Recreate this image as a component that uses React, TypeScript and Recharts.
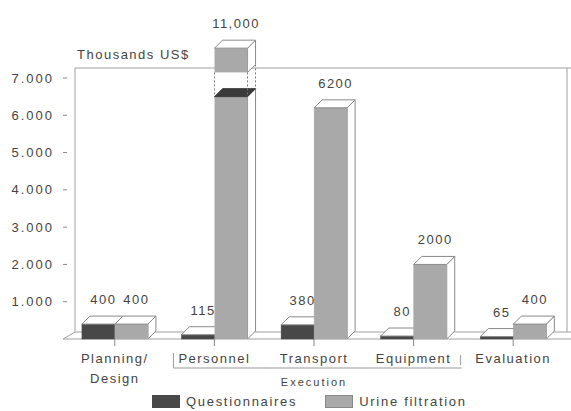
import React from 'react';
import { BarChart, Bar, XAxis, YAxis, ReferenceArea, LabelList } from 'recharts';

const categories = ['Planning/Design', 'Personnel', 'Transport', 'Equipment', 'Evaluation'];
const groups = ['', 'Execution', 'Execution', 'Execution', ''];
const questionnaires = [400, 115, 380, 80, 65];
const urineFiltration = [400, 11000, 6200, 2000, 400];
const yTicks = [1000, 2000, 3000, 4000, 5000, 6000, 7000];
const seriesNames = ['Questionnaires', 'Urine filtration'];
const seriesColors = ['#484848', '#a9a9a9'];

const data = categories.map((name, i) => ({
  name,
  group: groups[i],
  q: questionnaires[i],
  u: urineFiltration[i],
}));

const Y_MAX = 7000;
// where the off-scale bar gets cut (in value units)
const BREAK_LOW = 6500;
const BREAK_HIGH = 7150;
const BROKEN_TOP = 7800;
const DEPTH = 8;
const INK = '#444';
const EDGE = '#8a8a8a';
const FONT = '"Liberation Sans", Arial, sans-serif';

const fmtTick = (n: number) => String(n).replace(/\B(?=(\d{3})+(?!\d))/g, '.');
const fmtValue = (n: number) => (n >= 10000 ? n.toLocaleString('en-US') : String(n));

const topFace = (x: number, y: number, w: number, d: number) =>
  `${x},${y} ${x + d},${y - d} ${x + w + d},${y - d} ${x + w},${y}`;
const sideFace = (x: number, y: number, w: number, h: number, d: number) =>
  `${x + w},${y} ${x + w + d},${y - d} ${x + w + d},${y + h - d} ${x + w},${y + h}`;

const Box3D = (props: any) => {
  const { x, y, width: w, height: h, fill, v } = props;
  const base = y + h;
  const d = DEPTH;
  if (v > Y_MAX) {
    const k = h / v;
    const lowTop = base - BREAK_LOW * k;
    const highBottom = base - BREAK_HIGH * k;
    const top = base - BROKEN_TOP * k;
    return (
      <g>
        <polygon points={sideFace(x, lowTop, w, base - lowTop, d)} fill="#fff" stroke={EDGE} />
        <rect x={x} y={lowTop} width={w} height={base - lowTop} fill={fill} />
        <polygon points={topFace(x, lowTop, w, d)} fill="#3a3a3a" stroke="#3a3a3a" />
        <line x1={x} y1={highBottom} x2={x} y2={lowTop} stroke="#777" strokeDasharray="2 2" />
        <line x1={x + w} y1={highBottom} x2={x + w} y2={lowTop} stroke="#777" strokeDasharray="2 2" />
        <line x1={x + w + d} y1={highBottom - d} x2={x + w + d} y2={lowTop - d} stroke="#777" strokeDasharray="2 2" />
        <polygon points={sideFace(x, top, w, highBottom - top, d)} fill="#fff" stroke={EDGE} />
        <rect x={x} y={top} width={w} height={highBottom - top} fill={fill} />
        <polygon points={topFace(x, top, w, d)} fill="#fff" stroke={EDGE} />
      </g>
    );
  }
  return (
    <g>
      <polygon points={sideFace(x, y, w, h, d)} fill="#fff" stroke={EDGE} />
      <rect x={x} y={y} width={w} height={h} fill={fill} stroke={fill} strokeWidth={0.5} />
      <polygon points={topFace(x, y, w, d)} fill="#fff" stroke={EDGE} />
    </g>
  );
};

const makeLabel = (vals: number[]) => (props: any) => {
  const vb = props.viewBox || props;
  const { x, y, width, height } = vb;
  const v = vals[props.index];
  const base = y + height;
  const top = v > Y_MAX ? base - BROKEN_TOP * (height / v) : y;
  return (
    <text
      x={x + width / 2 + 5}
      y={top - 20}
      textAnchor="middle"
      fill={INK}
      fontSize={13}
      letterSpacing={1.5}
      fontFamily={FONT}
    >
      {fmtValue(v)}
    </text>
  );
};

// back wall and floor of the 3D box
const Frame = (props: any) => {
  const { x, y, width, height } = props;
  const b = y + height;
  return (
    <g fill="none" stroke="#a0a0a0" strokeWidth={1}>
      <line x1={x + 10} y1={y - 10} x2={x + 10} y2={b - 7} />
      <line x1={x + 10} y1={y - 10} x2={571} y2={y - 10} />
      <line x1={x + width + 4} y1={y - 10} x2={x + width + 4} y2={b - 7} />
      <line x1={x + 10} y1={b - 7} x2={571} y2={b - 7} />
      <line x1={x - 2} y1={b} x2={571} y2={b} />
      <line x1={x - 2} y1={b} x2={x + 10} y2={b - 7} />
    </g>
  );
};

const YTick = (props: any) => {
  const { x, y, payload } = props;
  return (
    <g>
      <line x1={x - 2} y1={y} x2={x + 2} y2={y} stroke="#888" />
      <text x={x - 11} y={y + 4.5} textAnchor="end" fill={INK} fontSize={13} letterSpacing={2} fontFamily={FONT}>
        {fmtTick(payload.value)}
      </text>
    </g>
  );
};

const XTick = (props: any) => {
  const { x, y, payload, index } = props;
  const label: string = payload.value;
  const lines = label.includes('/') ? [label.split('/')[0] + '/', label.split('/')[1]] : [label];
  const g = groups[index];
  const members = groups.map((gg, i) => (gg === g ? i : -1)).filter((i) => i >= 0);
  const isFirst = g && members[0] === index;
  const isLast = g && members[members.length - 1] === index;
  const isMid = g && members[Math.floor(members.length / 2)] === index;
  const lineY = y + 20;
  return (
    <g>
      {lines.map((t, i) => (
        <text key={i} x={x} y={y + 15 + i * 20} textAnchor="middle" fill={INK} fontSize={13} letterSpacing={1.5} fontFamily={FONT}>
          {t}
        </text>
      ))}
      {g && (
        <g stroke="#999" strokeWidth={1}>
          <line x1={isFirst ? x - 41 : x - 50} y1={lineY} x2={isLast ? x + 48 : x + 50} y2={lineY} />
          {isFirst && <line x1={x - 41} y1={lineY - 15} x2={x - 41} y2={lineY} />}
          {isLast && <line x1={x + 47} y1={lineY - 13} x2={x + 47} y2={lineY - 3} />}
        </g>
      )}
      {isMid && (
        <text x={x} y={lineY + 18} textAnchor="middle" fill={INK} fontSize={11} letterSpacing={2} fontFamily={FONT}>
          {g}
        </text>
      )}
    </g>
  );
};

const AxisTitle = (props: any) => {
  const vb = props.viewBox;
  return (
    <text x={vb.x + vb.width + 12} y={vb.y - 19} fill={INK} fontSize={13} letterSpacing={1.5} fontFamily={FONT}>
      Thousands US$
    </text>
  );
};

export default function App() {
  return (
    <div style={{ position: 'absolute', left: 0, top: 0, width: 571, height: 411, background: '#fff', fontFamily: FONT }}>
      <style>{'.recharts-surface [clip-path]{clip-path:none !important;} .recharts-wrapper, .recharts-surface{overflow:visible !important;}'}</style>
      <BarChart
        width={571}
        height={411}
        data={data}
        margin={{ top: 78, right: 8, bottom: 0, left: 0 }}
        barCategoryGap="17%"
        barGap={0}
      >
        <ReferenceArea y1={0} y2={Y_MAX} ifOverflow="visible" shape={<Frame />} fill="none" />
        <XAxis
          dataKey="name"
          height={72}
          axisLine={false}
          tickLine={{ stroke: '#888' }}
          tickSize={7}
          tick={<XTick />}
          interval={0}
        />
        <YAxis
          width={65}
          domain={[0, Y_MAX]}
          ticks={yTicks}
          allowDataOverflow
          axisLine={false}
          tickLine={false}
          tickSize={0}
          tickMargin={0}
          tick={<YTick />}
          label={{ content: <AxisTitle /> }}
        />
        <Bar
          dataKey="q"
          name={seriesNames[0]}
          fill={seriesColors[0]}
          isAnimationActive={false}
          shape={(p: any) => <Box3D {...p} v={p.payload.q} />}
        >
          <LabelList dataKey="q" content={makeLabel(questionnaires)} />
        </Bar>
        <Bar
          dataKey="u"
          name={seriesNames[1]}
          fill={seriesColors[1]}
          isAnimationActive={false}
          shape={(p: any) => <Box3D {...p} v={p.payload.u} />}
        >
          <LabelList dataKey="u" content={makeLabel(urineFiltration)} />
        </Bar>
      </BarChart>
      <div
        style={{
          position: 'absolute',
          left: 152,
          top: 395,
          display: 'flex',
          alignItems: 'center',
          fontSize: 13,
          letterSpacing: 1.7,
          color: INK,
          lineHeight: '13px',
        }}
      >
        {seriesNames.map((n, i) => (
          <div key={n} style={{ display: 'flex', alignItems: 'center', marginRight: 28 }}>
            <div
              style={{
                width: 28,
                height: 13,
                background: seriesColors[i],
                border: i === 0 ? 'none' : '1px solid #888',
                boxSizing: 'border-box',
                marginRight: 6,
              }}
            />
            <span>{n}</span>
          </div>
        ))}
      </div>
    </div>
  );
}
